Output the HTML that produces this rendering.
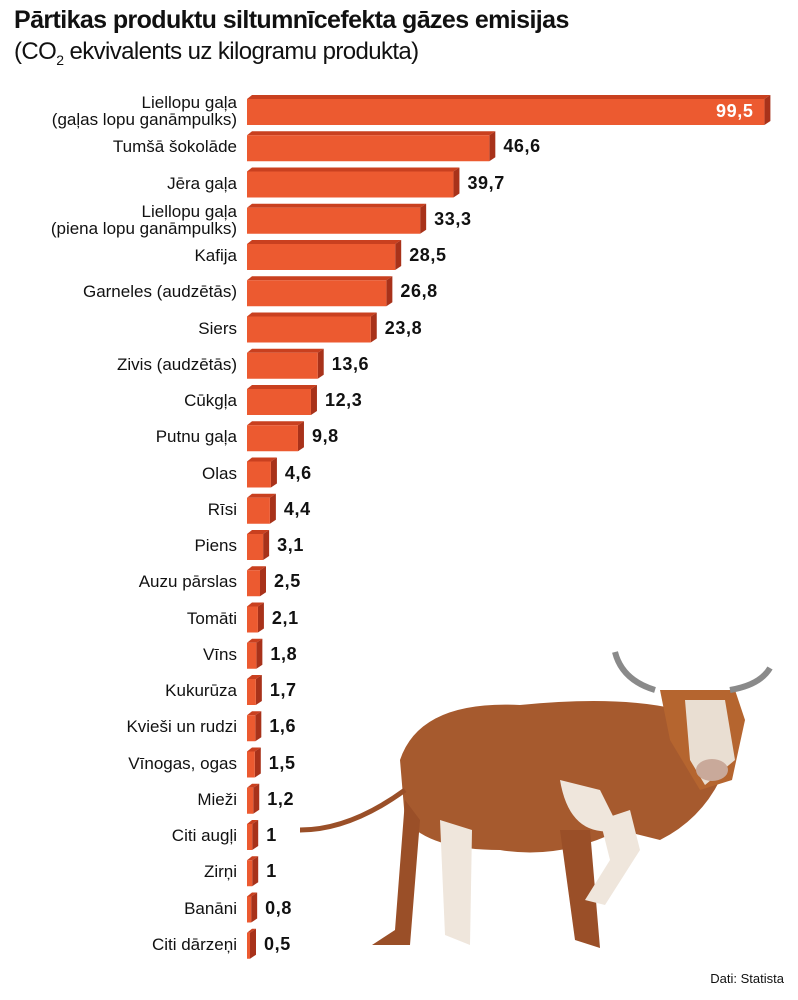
<!DOCTYPE html>
<html><head><meta charset="utf-8"><style>
body{margin:0;background:#fff;width:798px;height:1000px;position:relative;overflow:hidden;font-family:"Liberation Sans",sans-serif;color:#111}
.t{position:absolute;left:14px;top:6px;font-size:25px;font-weight:bold;letter-spacing:-0.6px}
.s{position:absolute;left:14px;top:38px;font-size:24px;letter-spacing:-0.6px}
.l{position:absolute;right:561px;font-size:17px;text-align:right;line-height:17px;white-space:nowrap}
.v{position:absolute;font-size:18px;font-weight:bold;letter-spacing:0.6px}
.src{position:absolute;right:14px;top:971px;font-size:13px}
</style></head><body>
<div class="t">Pārtikas produktu siltumnīcefekta gāzes emisijas</div>
<div class="s">(CO<sub style="font-size:14px">2</sub> ekvivalents uz kilogramu produkta)</div>
<svg width="798" height="1000" style="position:absolute;left:0;top:0">
<g>
<path d="M400 760 Q420 700 520 705 Q620 695 680 710 L720 780 Q700 820 660 840 L620 830 Q560 860 500 850 Q430 850 405 820Z" fill="#a65a2e"/>
<path d="M660 690 L735 690 L745 720 L732 780 L700 790 L670 740Z" fill="#b5652f"/>
<path d="M685 700 L725 700 L735 760 L705 785 L690 760Z" fill="#e9ded2"/>
<ellipse cx="712" cy="770" rx="16" ry="11" fill="#c9a99a"/>
<path d="M655 690 Q622 680 615 652 M730 690 Q760 685 770 668" stroke="#8a8a8a" stroke-width="6" fill="none"/>
<path d="M405 800 L395 930 L372 945 L410 945 L420 820Z" fill="#9a4f28"/>
<path d="M440 820 L445 935 L470 945 L472 830Z" fill="#efe6dc"/>
<path d="M560 830 L575 940 L600 948 L590 830Z" fill="#9a4f28"/>
<path d="M600 820 L610 860 L585 900 L605 905 L640 850 L630 810Z" fill="#efe6dc"/>
<path d="M405 790 Q350 830 300 830" stroke="#9a4f28" stroke-width="5" fill="none"/>
<path d="M560 780 Q570 840 620 830 L600 790Z" fill="#efe6dc"/>
</g>
<g id="bars"></g>
</svg>
<div class="src">Dati: Statista</div>
<script>
const d=[["Liellopu gaļa<br>(gaļas lopu ganāmpulks)",99.5],["Tumšā šokolāde",46.6],["Jēra gaļa",39.7],["Liellopu gaļa<br>(piena lopu ganāmpulks)",33.3],["Kafija",28.5],["Garneles (audzētās)",26.8],["Siers",23.8],["Zivis (audzētās)",13.6],["Cūkgļa",12.3],["Putnu gaļa",9.8],["Olas",4.6],["Rīsi",4.4],["Piens",3.1],["Auzu pārslas",2.5],["Tomāti",2.1],["Vīns",1.8],["Kukurūza",1.7],["Kvieši un rudzi",1.6],["Vīnogas, ogas",1.5],["Mieži",1.2],["Citi augļi",1],["Zirņi",1],["Banāni",0.8],["Citi dārzeņi",0.5]];
let g=document.getElementById('bars'),h='',html='';
d.forEach((r,i)=>{const c=111+i*36.25,w=Math.max(r[1]*5.2,3),x=247,y=c-12,H=26;
h+=`<polygon points="${x},${y} ${x+5},${y-4} ${x+w+6},${y-4} ${x+w},${y}" fill="#c9401f"/>`;
h+=`<polygon points="${x+w},${y} ${x+w+6},${y-4} ${x+w+6},${y+H-4} ${x+w},${y+H}" fill="#a8321a"/>`;
h+=`<rect x="${x}" y="${y}" width="${w}" height="${H}" fill="#ec5a30"/>`;
const two=r[0].includes('<br>');
html+=`<div class="l" style="top:${c-(two?17:9)}px">${r[0]}</div>`;
if(i==0)html+=`<div class="v" style="left:716px;top:${c-10}px;color:#fff">99,5</div>`;
else html+=`<div class="v" style="left:${x+w+14}px;top:${c-11}px">${String(r[1]).replace('.',',')}</div>`;});
g.innerHTML=h;document.body.insertAdjacentHTML('beforeend',html);
</script>
</body></html>
